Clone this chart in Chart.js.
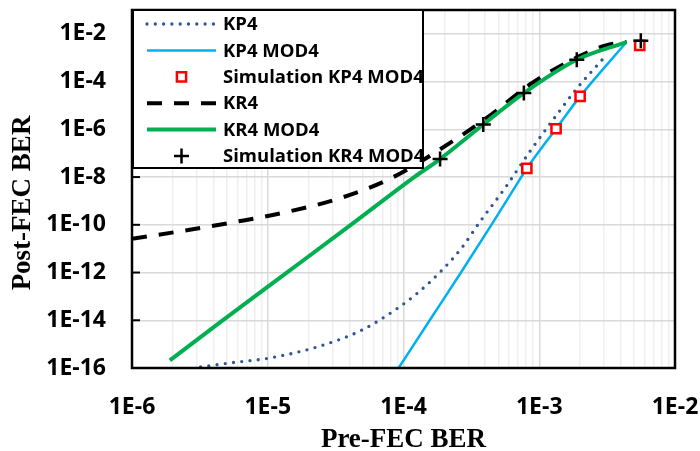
<!DOCTYPE html>
<html>
<head>
<meta charset="utf-8">
<script src="https://cdn.jsdelivr.net/npm/chart.js@4.4.0/dist/chart.umd.min.js"></script>
<style>
  html, body { margin: 0; padding: 0; background: #fff; }
</style>
</head>
<body>
<canvas id="berChart" width="700" height="451"></canvas>
<script>
// KP4 (analysis, dotted)
var kp4X = [3.2e-6, 5.6e-6, 9.8e-6, 2.3e-5, 4.9e-5, 8.9e-5, 1.24e-4, 1.86e-4, 2.7e-4, 3.66e-4, 5.6e-4, 8.55e-4, 1.36e-3, 1.9e-3, 3.0e-3];
var kp4Y = [1.1e-16, 1.7e-16, 2.5e-16, 7.6e-16, 3.8e-15, 3.0e-14, 1.24e-13, 1.04e-12, 1.13e-11, 1.35e-10, 3.5e-9, 1.2e-7, 4.4e-6, 5.3e-5, 1.0e-3];

// KP4 MOD4
var kp4Mod4X = [9.2e-5, 1.56e-4, 2.65e-4, 4.6e-4, 6.3e-4, 8.1e-4, 1.33e-3, 2.0e-3, 4.4e-3];
var kp4Mod4Y = [1e-16, 1e-14, 1e-12, 1.35e-10, 2.4e-9, 2.3e-8, 1.06e-6, 2.4e-5, 4.55e-3];

// Simulation KP4 MOD4
var simKp4X = [8.1e-4, 1.33e-3, 2.0e-3, 5.5e-3];
var simKp4Y = [2.3e-8, 1.06e-6, 2.4e-5, 3.3e-3];

// KR4 (dashed)
var kr4X = [1e-6, 2.2e-6, 5.5e-6, 1.4e-5, 3.5e-5, 8.4e-5, 1.9e-4, 4.1e-4, 8.8e-4, 2.0e-3, 3.1e-3, 4.4e-3];
var kr4Y = [2.6e-11, 5.2e-11, 1.26e-10, 3.5e-10, 1.37e-9, 9.9e-9, 1.57e-7, 3.0e-6, 8.5e-5, 1.2e-3, 3.3e-3, 4.55e-3];

// KR4 MOD4
var kr4Mod4X = [1.9e-6, 4.55e-6, 1.35e-5, 4.0e-5, 1.2e-4, 1.86e-4, 3.87e-4, 7.7e-4, 1.89e-3, 4.4e-3];
var kr4Mod4Y = [2.1e-16, 9e-15, 9e-13, 9e-11, 1e-8, 5.7e-8, 1.6e-6, 3.3e-5, 8.2e-4, 4.55e-3];

// Simulation KR4 MOD4
var simKr4X = [1.86e-4, 3.87e-4, 7.7e-4, 1.89e-3, 5.6e-3];
var simKr4Y = [5.7e-8, 1.6e-6, 3.3e-5, 8.2e-4, 5.1e-3];

// axes
var xTicks = [1e-6, 1e-5, 1e-4, 1e-3, 1e-2];
var xTickLabels = ['1E-6', '1E-5', '1E-4', '1E-3', '1E-2'];
var yTicks = [1e-16, 1e-14, 1e-12, 1e-10, 1e-8, 1e-6, 1e-4, 1e-2];
var yTickLabels = ['1E-16', '1E-14', '1E-12', '1E-10', '1E-8', '1E-6', '1E-4', '1E-2'];

function toPoints(xs, ys) {
    return xs.map(function (x, i) { return { x: x, y: ys[i] }; });
}

// minor gridlines 2..9 inside each decade
var xGrid = [];
for (var d = 0; d < xTicks.length - 1; d++) {
    for (var k = 1; k <= 9; k++) xGrid.push(k * xTicks[d]);
}
xGrid.push(xTicks[xTicks.length - 1]);

var legendFont = 'bold 18.5px "Open Sans"';

// frame, inward y ticks, legend box and y title
var frameAndLegend = {
    id: 'frameAndLegend',
    afterDraw: function (chart) {
        var ctx = chart.ctx, a = chart.chartArea;
        var yScale = chart.scales.y;
        ctx.save();

        ctx.strokeStyle = '#000';
        ctx.lineWidth = 2;
        ctx.setLineDash([]);
        yTicks.forEach(function (v) {
            var py = yScale.getPixelForValue(v);
            ctx.beginPath();
            ctx.moveTo(a.left, py);
            ctx.lineTo(a.left + 8, py);
            ctx.stroke();
        });

        ctx.lineWidth = 2.5;
        ctx.strokeRect(a.left, a.top, a.right - a.left, a.bottom - a.top);

        // legend
        var bx = a.left + 1, by = a.top, bw = 290, bh = 158;
        ctx.fillStyle = '#fff';
        ctx.fillRect(bx, by, bw, bh);
        ctx.lineWidth = 2;
        ctx.strokeRect(bx, by, bw, bh);

        var x0 = bx + 14, x1 = bx + 83, tx = bx + 90;
        chart.data.datasets.forEach(function (ds, i) {
            var y = by + 14 + i * 26.4;
            ctx.save();
            if (ds.showLine) {
                ctx.strokeStyle = ds.borderColor;
                ctx.lineWidth = ds.borderWidth;
                ctx.lineCap = ds.borderCapStyle || 'butt';
                ctx.setLineDash(ds.borderDash || []);
                ctx.beginPath();
                ctx.moveTo(x0, y);
                ctx.lineTo(x1, y);
                ctx.stroke();
            } else {
                ctx.strokeStyle = ds.borderColor;
                ctx.fillStyle = ds.backgroundColor;
                ctx.lineWidth = ds.borderWidth;
                ctx.setLineDash([]);
                Chart.helpers.drawPoint(ctx, {
                    pointStyle: ds.pointStyle, rotation: 0,
                    radius: ds.pointRadius, borderWidth: ds.borderWidth
                }, (x0 + x1) / 2, y);
            }
            ctx.restore();
            ctx.fillStyle = '#000';
            ctx.font = legendFont;
            ctx.textAlign = 'left';
            ctx.textBaseline = 'middle';
            ctx.fillText(ds.label, tx, y + 1);
        });

        // y axis title
        ctx.translate(23, 203);
        ctx.rotate(-Math.PI / 2);
        ctx.fillStyle = '#000';
        ctx.font = 'bold 27px "Liberation Serif"';
        ctx.textAlign = 'center';
        ctx.textBaseline = 'middle';
        ctx.fillText('Post-FEC BER', 0, 0);

        ctx.restore();
    }
};

var ctx = document.getElementById('berChart').getContext('2d');
var chart = new Chart(ctx, {
    type: 'scatter',
    data: {
        datasets: [{
            label: 'KP4',
            data: toPoints(kp4X, kp4Y),
            showLine: true,
            borderColor: '#2F5597',
            borderWidth: 3.3,
            borderDash: [0, 8.3],
            borderCapStyle: 'round',
            pointRadius: 0,
            cubicInterpolationMode: 'monotone',
            order: 6
        }, {
            label: 'KP4 MOD4',
            data: toPoints(kp4Mod4X, kp4Mod4Y),
            showLine: true,
            borderColor: '#00B0F0',
            borderWidth: 2.5,
            pointRadius: 0,
            cubicInterpolationMode: 'monotone',
            order: 5
        }, {
            label: 'Simulation KP4 MOD4',
            data: toPoints(simKp4X, simKp4Y),
            showLine: false,
            pointStyle: 'rect',
            pointRadius: 6.5,
            borderColor: '#FF0000',
            backgroundColor: '#FFFFFF',
            borderWidth: 2.5,
            order: 4
        }, {
            label: 'KR4',
            data: toPoints(kr4X, kr4Y),
            showLine: true,
            borderColor: '#000000',
            borderWidth: 4,
            borderDash: [15, 12],
            pointRadius: 0,
            cubicInterpolationMode: 'monotone',
            order: 3
        }, {
            label: 'KR4 MOD4',
            data: toPoints(kr4Mod4X, kr4Mod4Y),
            showLine: true,
            borderColor: '#00B050',
            borderWidth: 4,
            pointRadius: 0,
            cubicInterpolationMode: 'monotone',
            order: 2
        }, {
            label: 'Simulation KR4 MOD4',
            data: toPoints(simKr4X, simKr4Y),
            showLine: false,
            pointStyle: 'cross',
            pointRadius: 7.5,
            borderColor: '#000000',
            backgroundColor: '#000000',
            borderWidth: 2.5,
            order: 1
        }]
    },
    options: {
        responsive: false,
        animation: false,
        devicePixelRatio: 1,
        layout: { padding: { top: 5, right: 25, left: 0, bottom: 0 } },
        plugins: { legend: { display: false }, tooltip: { enabled: false } },
        scales: {
            x: {
                type: 'logarithmic',
                position: 'bottom',
                min: 1e-6,
                max: 1e-2,
                afterBuildTicks: function (scale) {
                    scale.ticks = xGrid.map(function (v) { return { value: v }; });
                },
                afterFit: function (scale) { scale.height = 83; },
                grid: {
                    color: function (c) {
                        return xTicks.indexOf(c.tick && c.tick.value) >= 0 ? '#d9d9d9' : '#efefef';
                    },
                    lineWidth: 1.5,
                    drawTicks: true,
                    tickLength: 26,
                    tickColor: 'rgba(0,0,0,0)'
                },
                border: { display: false },
                ticks: {
                    autoSkip: false,
                    maxRotation: 0,
                    padding: 0,
                    color: '#000',
                    font: { family: 'Open Sans', weight: 'bold', size: 23 },
                    callback: function (v) {
                        var i = xTicks.indexOf(v);
                        return i >= 0 ? xTickLabels[i] : '';
                    }
                },
                title: {
                    display: true,
                    text: 'Pre-FEC BER',
                    color: '#000',
                    padding: 0,
                    font: { family: 'Liberation Serif', weight: 'bold', size: 27, lineHeight: 0.8 }
                }
            },
            y: {
                type: 'logarithmic',
                min: 1e-16,
                max: 1e-1,
                afterBuildTicks: function (scale) {
                    scale.ticks = yTicks.map(function (v) { return { value: v }; });
                },
                afterFit: function (scale) { scale.width = 132; },
                grid: {
                    color: '#d9d9d9',
                    lineWidth: 1.5,
                    drawTicks: true,
                    tickLength: 26,
                    tickColor: 'rgba(0,0,0,0)'
                },
                border: { display: false },
                ticks: {
                    autoSkip: false,
                    padding: 0,
                    color: '#000',
                    font: { family: 'Open Sans', weight: 'bold', size: 23, lineHeight: 0.4 },
                    callback: function (v) {
                        var i = yTicks.indexOf(v);
                        return i >= 0 ? yTickLabels[i] : '';
                    }
                }
            }
        }
    },
    plugins: [frameAndLegend]
});
</script>
</body>
</html>
